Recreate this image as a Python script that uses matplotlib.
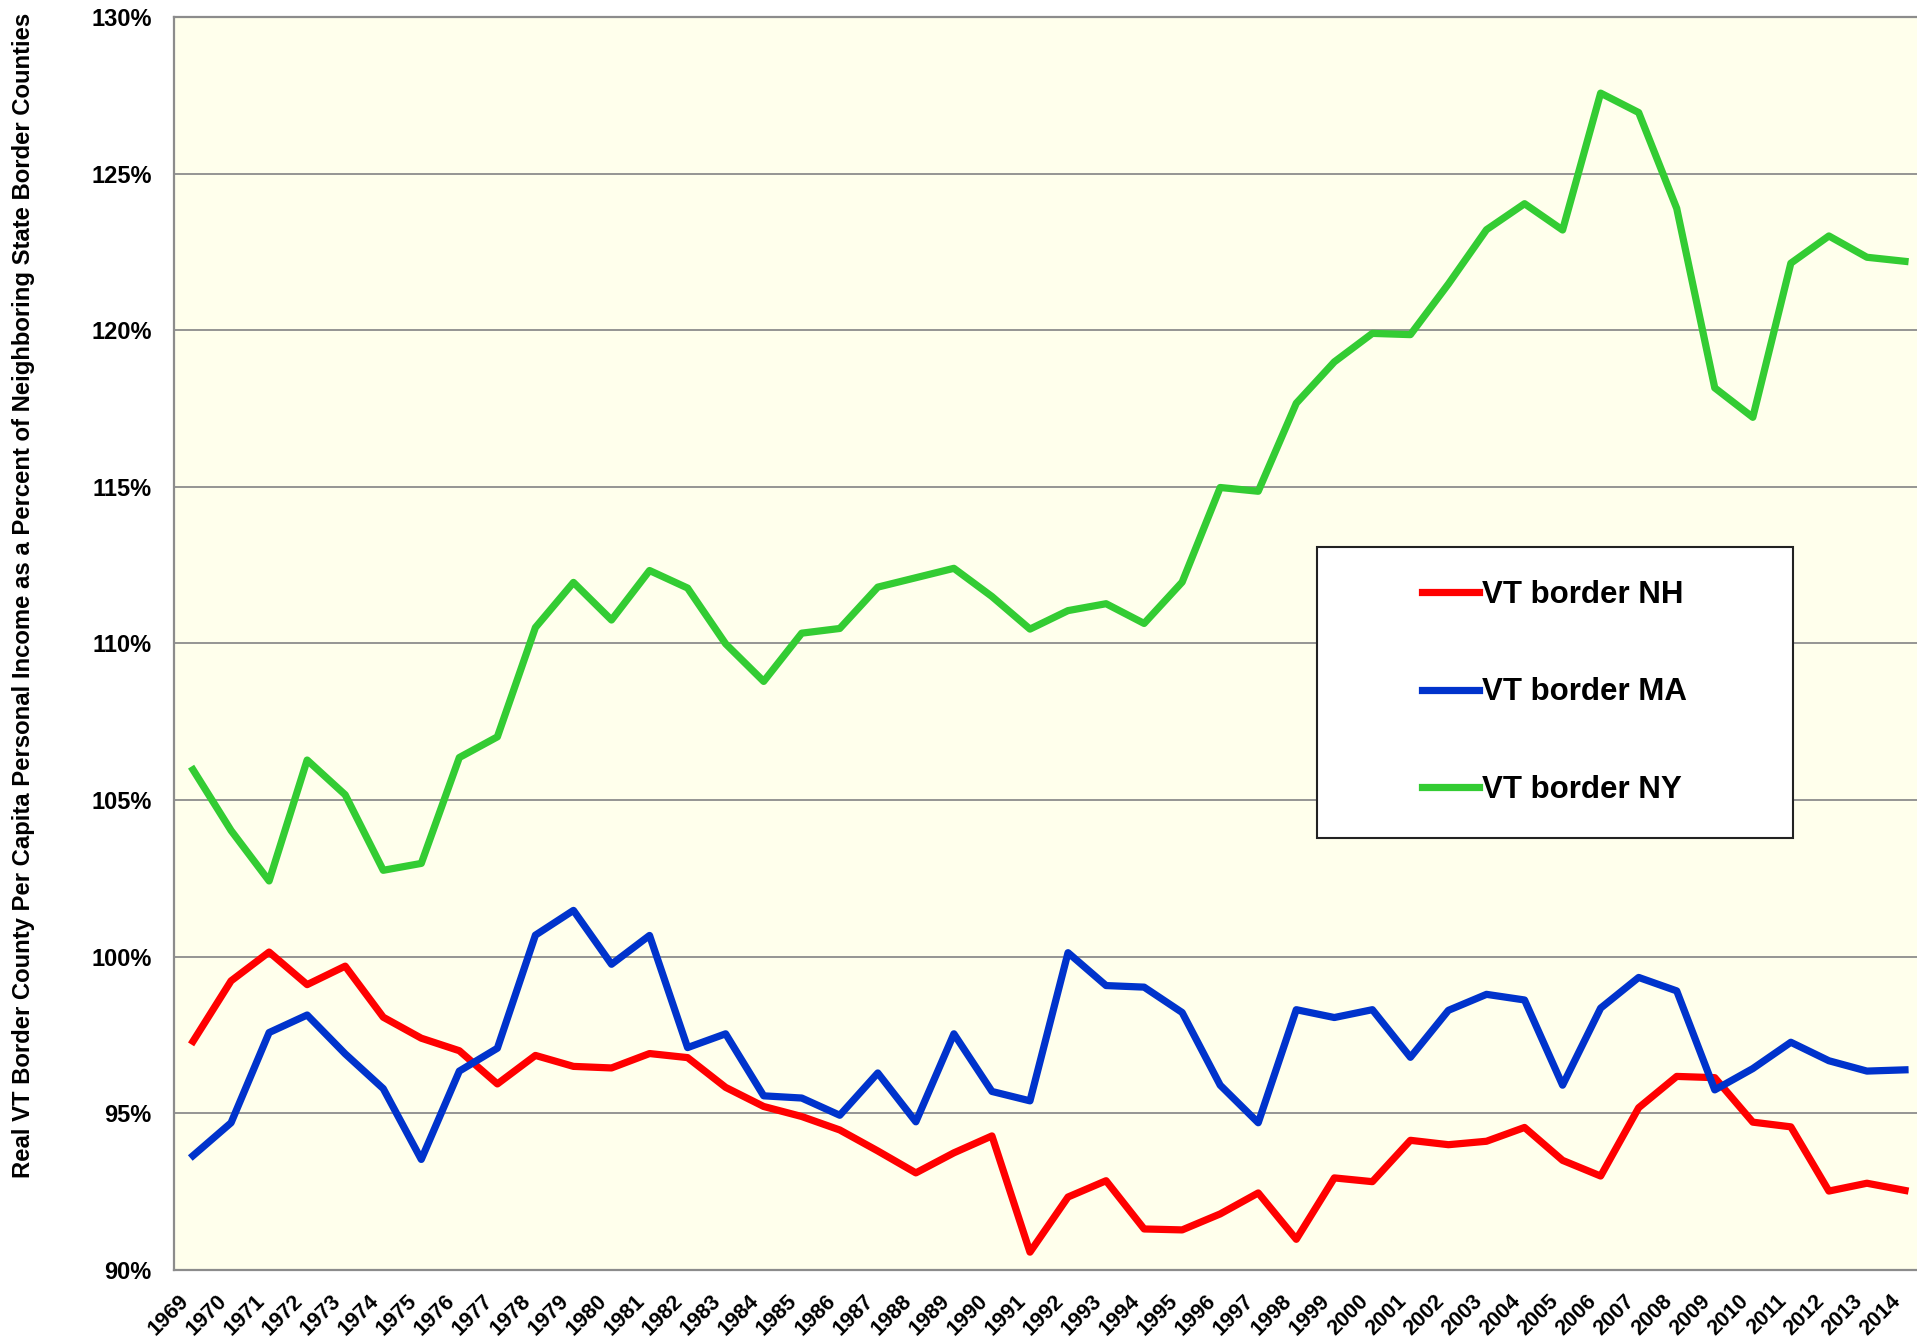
import matplotlib
matplotlib.use("Agg")
import matplotlib.pyplot as plt
from matplotlib.patches import Rectangle
from matplotlib.ticker import FuncFormatter, MultipleLocator

# values (percent)
years = list(range(1969, 2015))
vt_nh = [97.3, 99.23, 100.15, 99.11, 99.7, 98.07, 97.4, 97.0, 95.94, 96.85,
         96.5, 96.45, 96.91, 96.78, 95.83, 95.22, 94.9, 94.47, 93.8, 93.1,
         93.74, 94.28, 90.57, 92.33, 92.85, 91.31, 91.28, 91.79, 92.46, 90.98,
         92.94, 92.82, 94.14, 94.0, 94.11, 94.55, 93.5, 93.0, 95.18, 96.18,
         96.14, 94.72, 94.57, 92.52, 92.77, 92.54]
vt_ma = [93.65, 94.7, 97.58, 98.14, 96.9, 95.79, 93.53, 96.35, 97.08, 100.69,
         101.48, 99.76, 100.68, 97.1, 97.54, 95.56, 95.49, 94.94, 96.29, 94.73,
         97.54, 95.7, 95.4, 100.13, 99.08, 99.03, 98.22, 95.9, 94.7, 98.31,
         98.06, 98.31, 96.79, 98.29, 98.8, 98.62, 95.9, 98.36, 99.34, 98.91,
         95.75, 96.43, 97.27, 96.68, 96.35, 96.39]
vt_ny = [105.97, 104.03, 102.42, 106.28, 105.17, 102.76, 102.98, 106.36, 107.02, 110.51,
         111.95, 110.75, 112.33, 111.77, 109.99, 108.79, 110.33, 110.48, 111.8, 112.1,
         112.4, 111.5, 110.46, 111.05, 111.27, 110.64, 111.96, 114.98, 114.86, 117.67,
         118.99, 119.9, 119.86, 121.48, 123.21, 124.04, 123.2, 127.57, 126.95, 123.89,
         118.16, 117.22, 122.14, 123.01, 122.33, 122.2]

series_names = ["VT border NH", "VT border MA", "VT border NY"]
series_colors = ["#FF0000", "#0033CC", "#33CC33"]
y_label = ("Real VT Border County Per Capita Personal Income as a Percent "
           "of Neighboring State Border Counties")

plt.rcParams['font.family'] = ['Liberation Sans', 'DejaVu Sans']
plt.rcParams['font.weight'] = 'bold'

W, H = 1917, 1338
fig = plt.figure(figsize=(W / 100, H / 100), dpi=100)
ax = fig.add_axes([174 / W, 1 - 1270 / H, (1924 - 174) / W, (1270 - 17) / H])
ax.set_facecolor('#FFFFEC')

x = list(range(len(years)))
for vals, name, col in zip([vt_nh, vt_ma, vt_ny], series_names, series_colors):
    ax.plot(x, vals, color=col, lw=5.2, label=name, zorder=3)

ax.set_xlim(-0.5, len(years) - 0.5)
ax.set_ylim(90, 130)
ax.yaxis.set_major_locator(MultipleLocator(5))
ax.yaxis.set_major_formatter(FuncFormatter(lambda v, p: "{:.0f}%".format(v)))
ax.set_xticks(x)
ax.set_xticklabels([str(y) for y in years])

ax.grid(axis='y', color='#8C8C8C', lw=1.3)
ax.set_axisbelow(True)
for side in ['left', 'bottom', 'top']:
    ax.spines[side].set_color('#8C8C8C')
    ax.spines[side].set_linewidth(1.6)
ax.spines['right'].set_visible(False)

ax.tick_params(axis='y', length=0, pad=16, labelsize=17)
ax.tick_params(axis='x', length=0, pad=15, labelsize=15.6)
plt.setp(ax.get_xticklabels(), rotation=45, ha='right')
for t in ax.get_yticklabels() + ax.get_xticklabels():
    t.set_fontweight('bold')

fig.text(24 / W, 1 - 595 / H, y_label, rotation=90, ha='center', va='center',
         fontsize=17.2, fontweight='bold')

# legend box
box = Rectangle((1317 / W, 1 - 838 / H), 476 / W, 291 / H, transform=fig.transFigure,
                facecolor='white', edgecolor='#222222', lw=1.5, zorder=5, clip_on=False)
ax.add_patch(box)
leg = ax.legend(loc='center left', bbox_to_anchor=(1406 / W, 1 - 692.5 / H),
                bbox_transform=fig.transFigure, frameon=False,
                prop={'size': 22.5, 'weight': 'bold'}, handlelength=1.84,
                handletextpad=0.1, borderpad=0, labelspacing=2.16)
leg.set_zorder(6)

fig.savefig("out.png", dpi=100)
